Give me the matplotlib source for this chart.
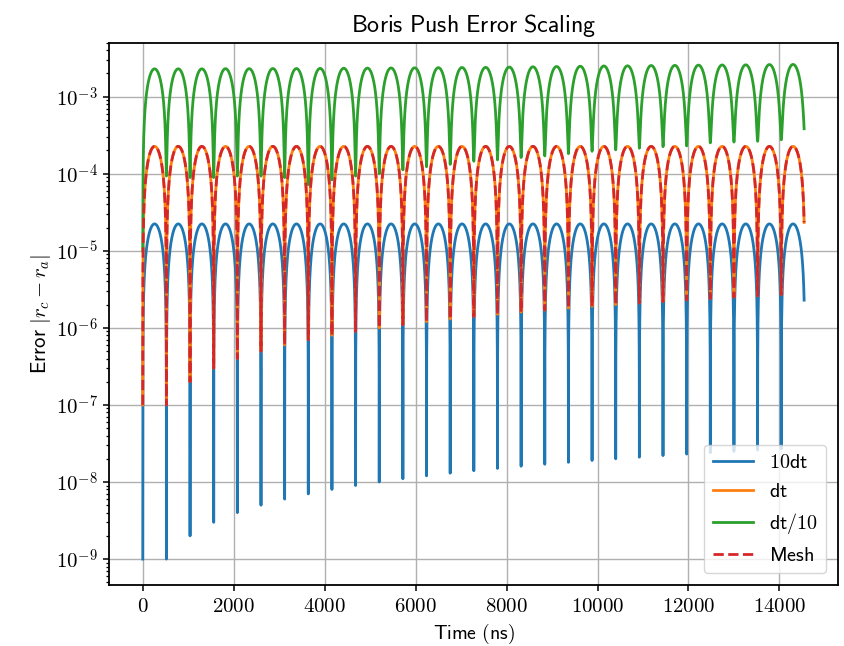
import numpy as np
import matplotlib
matplotlib.use("Agg")
import matplotlib.pyplot as plt
from matplotlib.ticker import FuncFormatter, NullFormatter

plt.rcParams["mathtext.fontset"] = "cm"

# times (ns) where each curve dips to its minimum
dip_times = [0, 520, 1040, 1560, 2080, 2600, 3120, 3640, 4160, 4680,
             5200, 5720, 6240, 6760, 7280, 7800, 8320, 8840, 9360, 9880,
             10400, 10920, 11440, 11960, 12480, 13000, 13520, 14040]
period = 520.0
t_end = 14543.0

# minimum value reached at each dip
floor_10dt = [1e-9, 1e-9, 2e-9, 3e-9, 4e-9, 5e-9, 6e-9, 7e-9, 8e-9, 9e-9,
              1.0e-8, 1.1e-8, 1.2e-8, 1.3e-8, 1.4e-8, 1.5e-8, 1.6e-8, 1.7e-8, 1.8e-8, 1.9e-8,
              2.0e-8, 2.1e-8, 2.2e-8, 2.3e-8, 2.4e-8, 2.5e-8, 2.6e-8, 2.7e-8]
floor_dt = [1e-7, 1e-7, 2e-7, 3e-7, 4e-7, 5e-7, 6e-7, 7e-7, 8e-7, 9e-7,
            1.0e-6, 1.1e-6, 1.2e-6, 1.3e-6, 1.4e-6, 1.5e-6, 1.6e-6, 1.7e-6, 1.8e-6, 1.9e-6,
            2.0e-6, 2.1e-6, 2.2e-6, 2.3e-6, 2.4e-6, 2.5e-6, 2.6e-6, 2.7e-6]
floor_dt10 = [1e-5, 9.3e-5, 8.9e-5, 8.9e-5, 9.3e-5, 9.3e-5, 8.9e-5, 7.2e-5, 8.3e-5, 9.3e-5,
              1.00e-4, 1.12e-4, 1.23e-4, 1.32e-4, 1.45e-4, 1.51e-4, 1.62e-4, 1.70e-4, 1.82e-4, 1.95e-4,
              2.04e-4, 2.14e-4, 2.24e-4, 2.29e-4, 2.51e-4, 2.57e-4, 2.63e-4, 2.75e-4]

# height of each arch (arch k starts at dip k)
peak_10dt = [2.23e-5] * 28
peak_dt = [2.26e-4] * 28
peak_dt10 = [2.29e-3, 2.29e-3, 2.29e-3, 2.30e-3, 2.30e-3, 2.31e-3, 2.31e-3, 2.32e-3, 2.33e-3, 2.34e-3,
             2.35e-3, 2.36e-3, 2.37e-3, 2.38e-3, 2.39e-3, 2.41e-3, 2.43e-3, 2.45e-3, 2.47e-3, 2.49e-3,
             2.50e-3, 2.52e-3, 2.53e-3, 2.55e-3, 2.56e-3, 2.57e-3, 2.59e-3, 2.60e-3]

xticks = [0, 2000, 4000, 6000, 8000, 10000, 12000, 14000]
yexps = [-9, -8, -7, -6, -5, -4, -3]

t = np.union1d(np.linspace(0, t_end, 8000), dip_times)
dips = np.array(dip_times)
arch = np.clip(np.searchsorted(dips, t, side="right") - 1, 0, len(dips) - 1)


def curve(peaks, floors):
    arches = np.array(peaks)[arch] * np.abs(np.sin(np.pi * (t - dips[arch]) / period))
    fl = np.interp(t, dips, floors)
    return np.sqrt(arches ** 2 + fl ** 2)


err_10dt = curve(peak_10dt, floor_10dt)
err_dt = curve(peak_dt, floor_dt)
err_dt10 = curve(peak_dt10, floor_dt10)
err_mesh = err_dt.copy()

fig = plt.figure(figsize=(8.44, 6.46), dpi=100)
ax = fig.add_axes([0.129, 0.094, 0.864, 0.840])

lw = 2.0
ax.semilogy(t, err_10dt, color="#1f77b4", lw=lw, label=r"$\mathsf{10dt}$")
ax.semilogy(t, err_dt, color="#ff7f0e", lw=lw, label=r"$\mathsf{dt}$")
ax.semilogy(t, err_dt10, color="#2ca02c", lw=lw, label=r"$\mathsf{dt/10}$")
ax.semilogy(t, err_mesh, color="#d62728", lw=lw, ls="--", label=r"$\mathsf{Mesh}$")

ax.set_xlim(-745, 15290)
ax.set_ylim(10 ** -9.34, 10 ** -2.30)
ax.set_xticks(xticks)
ax.xaxis.set_major_formatter(FuncFormatter(lambda v, p: r"$%d$" % v))
ax.set_yticks([10.0 ** e for e in yexps])
ax.yaxis.set_major_formatter(FuncFormatter(lambda v, p: r"$10^{%d}$" % round(np.log10(v))))
ax.yaxis.set_minor_formatter(NullFormatter())
ax.tick_params(labelsize=15, width=1.1, length=4.5)
ax.tick_params(which="minor", width=0.9, length=2.5)
for s in ax.spines.values():
    s.set_linewidth(1.3)

ax.grid(True, which="major", color="#b0b0b0", lw=1.0)
ax.set_axisbelow(True)

ax.set_title(r"$\mathsf{Boris\ Push\ Error\ Scaling}$", fontsize=17.3, pad=8)
ax.set_xlabel(r"$\mathsf{Time\ (ns)}$", fontsize=14.3, labelpad=4)
ax.set_ylabel(r"$\mathsf{Error}\ |r_c - r_a|$", fontsize=15, labelpad=2)
ax.legend(loc="lower right", fontsize=14.5, handlelength=2.0, borderaxespad=0.6)

fig.savefig("out.png", dpi=100)
